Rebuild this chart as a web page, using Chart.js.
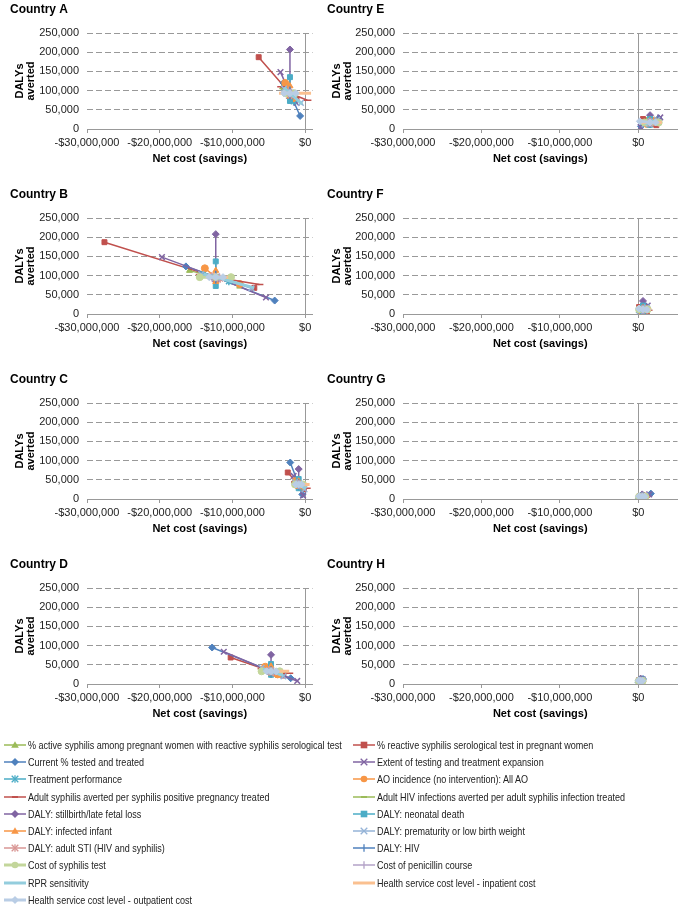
<!DOCTYPE html>
<html><head><meta charset="utf-8">
<script src="https://cdn.jsdelivr.net/npm/chart.js@4.4.0/dist/chart.umd.min.js"></script>
<style>
body{margin:0;background:#fff;width:683px;height:909px;position:relative;overflow:hidden;font-family:"Liberation Sans",Arial,sans-serif;}
canvas{position:absolute;}
.li{position:absolute;height:16px;display:flex;align-items:center;font-family:"Liberation Sans",Arial,sans-serif;font-size:10.5px;color:#222;white-space:nowrap;}
.li svg{margin-right:2px;flex:none}
.li span{display:inline-block;transform:scaleX(0.86);transform-origin:0 50%;}
</style></head><body>
<script>
// ---------- DATA ----------
const countryNames = ['Country A','Country B','Country C','Country D','Country E','Country F','Country G','Country H'];
const seriesNames = [
 '% active syphilis among pregnant women with reactive syphilis serological test',
 '% reactive syphilis serological test in pregnant women',
 'Current % tested and treated',
 'Extent of testing and treatment expansion',
 'Treatment performance',
 'AO incidence (no intervention): All AO',
 'Adult syphilis averted per syphilis positive pregnancy treated',
 'Adult HIV infections averted per adult syphilis infection treated',
 'DALY: stillbirth/late fetal loss',
 'DALY: neonatal death',
 'DALY: infected infant',
 'DALY: prematurity or low birth weight',
 'DALY: adult STI (HIV and syphilis)',
 'DALY: HIV',
 'Cost of syphilis test',
 'Cost of penicillin course',
 'RPR sensitivity',
 'Health service cost level - inpatient cost',
 'Health service cost level - outpatient cost'
];
// values: [net cost in $ millions, DALYs averted in thousands]
const baseA = [-2.1, 93];
const lowA  = [[-3.1,109],[-6.4,187],[-3.0,120],[-3.4,148],[-2.6,108],[-2.75,120],[-3.3,110],[-2.8,103],[-2.1,80],[-2.1,73],[-2.1,85],[-2.9,105],[-2.3,98],[-2.1,88],[-2.7,93],[-2.3,93],[-2.9,108],[-3.6,93],[-2.9,93]];
const highA = [[-1.5,80],[-1.2,78],[-0.7,34],[-1.2,68],[-1.6,72],[-1.7,80],[0.3,75],[-1.6,85],[-2.1,207],[-2.1,135],[-2.1,112],[-0.6,68],[-1.9,88],[-2.1,100],[-1.5,93],[-1.9,93],[-0.4,65],[0.8,93],[-1.3,93]];

const baseB = [-12.3, 96];
const lowB  = [[-15.9,113],[-27.6,187],[-16.4,124],[-19.7,148],[-14.0,104],[-13.8,119],[-14.5,103],[-13.5,100],[-12.3,85],[-12.3,73],[-12.3,84],[-14.3,104],[-12.9,98],[-12.3,90],[-14.5,96],[-12.8,96],[-14.0,104],[-13.6,96],[-13.2,96]];
const highB = [[-9.0,72],[-7.0,68],[-4.2,35],[-5.4,43],[-10.5,85],[-9.0,78],[-6.3,77],[-10.8,90],[-12.3,208],[-12.3,137],[-12.3,113],[-7.4,67],[-11.7,92],[-12.3,102],[-10.2,96],[-11.8,96],[-7.0,68],[-10.6,96],[-11.3,96]];

const baseC = [-0.9, 38];
const lowC  = [[-1.5,46],[-2.4,69],[-2.06,95],[-1.6,60],[-1.3,45],[-1.3,47],[-1.4,44],[-1.2,42],[-0.9,30],[-0.9,28],[-0.9,32],[-1.4,44],[-1.0,40],[-0.9,35],[-1.4,38],[-1.0,38],[-1.3,43],[-1.7,38],[-1.3,38]];
const highC = [[-0.4,30],[-0.2,26],[-0.4,12],[-0.3,9],[-0.5,30],[-0.5,32],[0.2,28],[-0.6,34],[-0.9,78],[-0.9,52],[-0.9,46],[-0.1,25],[-0.8,36],[-0.9,41],[-0.3,38],[-0.8,38],[0.1,27],[0.6,38],[-0.5,38]];

const baseD = [-4.7, 33];
const lowD  = [[-5.7,42],[-10.25,69],[-12.8,95],[-11.2,84],[-5.3,40],[-5.5,45],[-6.0,40],[-5.4,38],[-4.7,25],[-4.7,24],[-4.7,28],[-6.0,42],[-5.0,36],[-4.7,30],[-6.0,33],[-5.0,33],[-5.8,40],[-5.6,33],[-5.3,33]];
const highD = [[-3.6,24],[-3.0,22],[-2.0,15],[-1.1,8],[-4.0,26],[-3.8,25],[-2.2,28],[-4.0,28],[-4.7,76],[-4.7,52],[-4.7,46],[-3.0,20],[-4.4,30],[-4.7,36],[-3.5,33],[-4.4,33],[-3.0,22],[-2.2,33],[-4.0,33]];

const baseE = [1.5, 17];
const lowE  = [[1.0,22],[0.6,26],[0.35,7],[0.3,5],[1.2,14],[1.1,13],[0.9,19],[1.2,18],[1.5,12],[1.5,11],[1.5,13],[0.8,12],[1.3,18],[1.5,15],[0.8,17],[1.3,17],[0.9,13],[0.3,17],[0.2,20]];
const highE = [[2.0,12],[2.3,10],[2.6,28],[2.8,30],[1.9,20],[2.0,22],[2.4,15],[1.8,16],[1.5,36],[1.5,26],[1.5,22],[2.4,24],[1.7,16],[1.5,19],[2.6,17],[1.7,17],[2.3,23],[3.0,17],[2.2,17]];

const baseF = [0.6, 12];
const lowF  = [[0.3,15],[0.1,18],[0.2,4],[0.1,3],[0.4,10],[0.4,9],[0.2,14],[0.4,13],[0.6,8],[0.6,7],[0.6,9],[0.2,8],[0.5,13],[0.6,11],[0.1,12],[0.5,12],[0.2,9],[0.0,12],[0.1,14]];
const highF = [[0.9,9],[1.1,7],[1.0,20],[1.2,22],[0.8,14],[0.8,15],[1.3,10],[0.8,11],[0.6,34],[0.6,22],[0.6,17],[1.1,17],[0.7,11],[0.6,14],[1.2,12],[0.7,12],[1.0,16],[1.6,12],[1.1,11]];

const baseG = [0.5, 6];
const lowG  = [[0.3,7],[0.2,8],[0.1,2],[0.1,2],[0.4,5],[0.35,5],[0.2,7],[0.4,6],[0.5,4],[0.5,3],[0.5,4],[0.2,4],[0.45,6],[0.5,5],[0.1,6],[0.4,6],[0.2,4],[0.0,6],[0.1,7]];
const highG = [[0.7,5],[0.9,4],[1.6,14],[1.4,12],[0.6,7],[0.65,8],[1.0,5],[0.6,6],[0.5,12],[0.5,9],[0.5,8],[0.9,9],[0.55,6],[0.5,7],[0.9,6],[0.6,6],[0.8,8],[1.0,6],[0.8,6]];

const baseH = [0.3, 8];
const lowH  = [[0.2,9],[0.1,10],[0.05,4],[0.05,3],[0.25,7],[0.25,7],[0.15,9],[0.25,8],[0.3,6],[0.3,5],[0.3,6],[0.1,6],[0.28,8],[0.3,7],[0.05,8],[0.25,8],[0.1,6],[0.0,8],[0.05,9]];
const highH = [[0.4,7],[0.5,6],[0.6,13],[0.55,12],[0.35,9],[0.35,9],[0.5,7],[0.35,8],[0.3,14],[0.3,11],[0.3,10],[0.5,11],[0.32,8],[0.3,9],[0.55,8],[0.35,8],[0.5,10],[0.6,8],[0.5,8]];

const xTickValues = [-30000000,-20000000,-10000000,0];
const yTickValues = [0,50000,100000,150000,200000,250000];
const xAxisTitle = 'Net cost (savings)';
const yAxisTitle = ['DALYs','averted'];

// ---------- STYLES ----------
const seriesColors = ['#9BBB59','#C0504D','#4F81BD','#8064A2','#4BACC6','#F79646','#C0504D','#9BBB59','#8064A2','#4BACC6','#F79646','#95B3D7','#D99694','#4F81BD','#C3D69B','#B3A2C7','#93CDDD','#FAC090','#B9CDE5'];
const seriesMarkers = ['triangle','rect','rectRot','crossRot','star','circle','line','line','rectRot','rect','triangle','crossRot','star','cross','circle','cross',false,false,'rectRot'];
const seriesWidths = [1.5,1.5,1.5,1.5,1.5,1.5,1.5,1.5,1.5,1.5,1.5,1.5,1.5,1.5,3,1.5,3,3,3];

const FONT = '"Liberation Sans", Arial, sans-serif';
const countrySets = [
  [baseA,lowA,highA],[baseB,lowB,highB],[baseC,lowC,highC],[baseD,lowD,highD],
  [baseE,lowE,highE],[baseF,lowF,highF],[baseG,lowG,highG],[baseH,lowH,highH]
];
const M = 1e6, K = 1e3;
const pt = v => ({x: v[0]*M, y: v[1]*K});

function makeChart(ci){
  const right = ci >= 4;
  const row = ci % 4;
  const cv = document.createElement('canvas');
  const W = right ? 367 : 318, H = 185;
  cv.width = W; cv.height = H;
  cv.style.left = (right ? 316 : 0) + 'px';
  cv.style.top = (row*185) + 'px';
  cv.style.width = W+'px'; cv.style.height = H+'px';
  document.body.appendChild(cv);
  const [base, low, high] = countrySets[ci];
  const datasets = seriesNames.map((name, i) => {
    const mk = seriesMarkers[i];
    const isCross = mk === 'crossRot' || mk === 'cross' || mk === 'star' || mk === 'line';
    return {
      label: name,
      data: [pt(low[i]), pt(base), pt(high[i])],
      showLine: true,
      borderColor: seriesColors[i],
      backgroundColor: seriesColors[i],
      borderWidth: seriesWidths[i],
      pointStyle: mk || 'circle',
      pointRadius: mk ? (isCross ? 4 : 3.5) : 0,
      pointBorderWidth: isCross ? 1.5 : 1,
      pointBorderColor: seriesColors[i],
      pointBackgroundColor: seriesColors[i],
      order: -i
    };
  });
  return new Chart(cv, {
    type: 'scatter',
    data: {datasets},
    options: {
      responsive: false, animation: false, devicePixelRatio: 1,
      layout: {padding: {left: right ? 11 : 10, right: 4.7, top: 0, bottom: 0}},
      plugins: {
        legend: {display: false}, tooltip: {enabled: false},
        title: {display: true, text: countryNames[ci], align: 'start', color: '#000',
          font: {family: FONT, size: 12, weight: 'bold'}, padding: {top: 2, bottom: 16.6}}
      },
      scales: {
        x: {
          type: 'linear', min: -30*M, max: right ? 5*M : 1*M,
          afterBuildTicks: s => { s.ticks = xTickValues.map(v => ({value: v})); },
          afterFit: s => { s.height = 56; },
          ticks: {color: '#222', padding: 3, maxRotation: 0, autoSkip: false,
            font: {family: FONT, size: 11},
            callback: v => (v < 0 ? '-$' : '$') + Math.abs(v).toLocaleString('en-US')},
          grid: {drawTicks: true, tickLength: 4, tickColor: '#999', lineWidth: 1,
            color: c => (c.tick && c.tick.value === 0) ? '#999' : 'rgba(0,0,0,0)'},
          border: {display: true, color: '#999', width: 1},
          title: {display: true, text: xAxisTitle, color: '#000',
            font: {family: FONT, size: 11, weight: 'bold'}, padding: {top: 0, bottom: 19.4}}
        },
        y: {
          type: 'linear', min: 0, max: 250000,
          afterBuildTicks: s => { s.ticks = yTickValues.map(v => ({value: v})); },
          afterFit: s => { s.width = right ? 76 : 77; },
          ticks: {color: '#222', padding: 8, font: {family: FONT, size: 11},
            callback: v => v.toLocaleString('en-US')},
          grid: {drawTicks: false, lineWidth: 1,
            color: c => (c.tick && c.tick.value === 0) ? 'rgba(0,0,0,0)' : '#999'},
          border: {display: false, dash: [6, 3]},
          title: {display: true, text: yAxisTitle, color: '#000',
            font: {family: FONT, size: 11, weight: 'bold', lineHeight: 0.95}, padding: {top: 4.8}}
        }
      }
    }
  });
}
for (let i = 0; i < 8; i++) makeChart(i);

// ---------- HTML legend built from the series ----------
function markerSvg(i){
  const c = seriesColors[i], mk = seriesMarkers[i], lw = seriesWidths[i];
  let s = `<svg width="22" height="10" viewBox="0 0 22 10"><line x1="0" y1="5" x2="22" y2="5" stroke="${c}" stroke-width="${lw}"/>`;
  const cx = 11, cy = 5, r = 3.3;
  if (mk === 'triangle') s += `<polygon points="${cx},${cy-r-0.5} ${cx+r+0.5},${cy+r-0.5} ${cx-r-0.5},${cy+r-0.5}" fill="${c}"/>`;
  else if (mk === 'rect') s += `<rect x="${cx-r}" y="${cy-r}" width="${2*r}" height="${2*r}" fill="${c}"/>`;
  else if (mk === 'rectRot') s += `<polygon points="${cx},${cy-r-0.7} ${cx+r+0.7},${cy} ${cx},${cy+r+0.7} ${cx-r-0.7},${cy}" fill="${c}"/>`;
  else if (mk === 'circle') s += `<circle cx="${cx}" cy="${cy}" r="${r}" fill="${c}"/>`;
  else if (mk === 'crossRot' || mk === 'star') {
    s += `<line x1="${cx-r}" y1="${cy-r}" x2="${cx+r}" y2="${cy+r}" stroke="${c}" stroke-width="1.3"/><line x1="${cx-r}" y1="${cy+r}" x2="${cx+r}" y2="${cy-r}" stroke="${c}" stroke-width="1.3"/>`;
    if (mk === 'star') s += `<line x1="${cx}" y1="${cy-r-0.5}" x2="${cx}" y2="${cy+r+0.5}" stroke="${c}" stroke-width="1.3"/>`;
  } else if (mk === 'cross') s += `<line x1="${cx}" y1="${cy-r-0.5}" x2="${cx}" y2="${cy+r+0.5}" stroke="${c}" stroke-width="1.3"/>`;
  else if (mk === 'line') s += `<line x1="${cx-3}" y1="${cy}" x2="${cx+3}" y2="${cy}" stroke="${c}" stroke-width="2"/>`;
  return s + '</svg>';
}
seriesNames.forEach((name, i) => {
  const d = document.createElement('div');
  d.className = 'li';
  const col = i % 2, row = Math.floor(i / 2);
  d.style.left = (col ? 353 : 4) + 'px';
  d.style.top = (745 + 17.2*row - 8) + 'px';
  d.innerHTML = markerSvg(i) + '<span></span>';
  d.querySelector('span').textContent = name;
  document.body.appendChild(d);
});
</script>
</body></html>
